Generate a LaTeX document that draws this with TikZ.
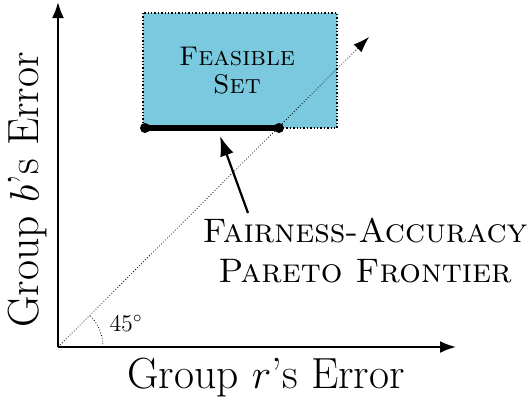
\documentclass[tikz,border=0pt]{standalone}
\usepackage{fontspec}
\usetikzlibrary{arrows.meta}
\definecolor{feas}{RGB}{122,201,222}
\begin{document}
\begin{tikzpicture}[x=0.5pt,y=-0.5pt,
  axis/.style={line width=1.1pt,-{Latex[length=8pt,width=6pt]}},
  diag/.style={densely dotted,line width=0.4pt,-{Latex[length=8pt,width=5.5pt]}},
  pointer/.style={line width=1.1pt,-{Latex[length=10pt,width=7pt]}},
  big/.style={font=\fontsize{21.8}{26}\selectfont},
  mid/.style={font=\fontsize{17}{20}\selectfont\scshape,align=center},
  small/.style={font=\fontsize{13.5}{16}\selectfont\scshape,align=center},
  tiny/.style={font=\fontsize{11.5}{13}\selectfont}]
\useasboundingbox (0,0) rectangle (530,397);
\coordinate (O) at (58,347);
\coordinate (ytip) at (58,2);
\coordinate (xtip) at (456,347);
\coordinate (dtip) at (369,37);
\coordinate (r1) at (143,13);
\coordinate (r2) at (337,128);
\coordinate (fa) at (145,128);
\coordinate (fb) at (279,128);
\coordinate (ptip) at (220,136);
\coordinate (ptail) at (248,213);
\fill[feas] (r1) rectangle (r2);
\draw[densely dotted,line width=0.7pt] (r1) rectangle (r2);
\node[small] (fs) at (237,71) {Feasible\\[-2pt]Set};
\draw[diag] (O) -- (dtip);
\draw[line width=2.6pt] (fa) -- (fb);
\fill (fa) circle (5);
\fill (fb) circle (5);
\draw[axis] (O) -- (ytip);
\draw[axis] (O) -- (xtip);
\draw[densely dotted,line width=0.4pt] ([xshift=22.5pt]O) arc[start angle=0,end angle=45,radius=22.5pt];
\node[tiny] (ang) at (126,323) {$45^\circ$};
\node[mid] (pf) at (365,251) {Fairness-Accuracy\\Pareto Frontier};
\draw[pointer] (ptail) -- (ptip);
\node[big] (xl) at (266,378) {Group $r$'s Error};
\node[big,rotate=90] (yl) at (28,190) {Group $b$'s Error};
\end{tikzpicture}
\end{document}
